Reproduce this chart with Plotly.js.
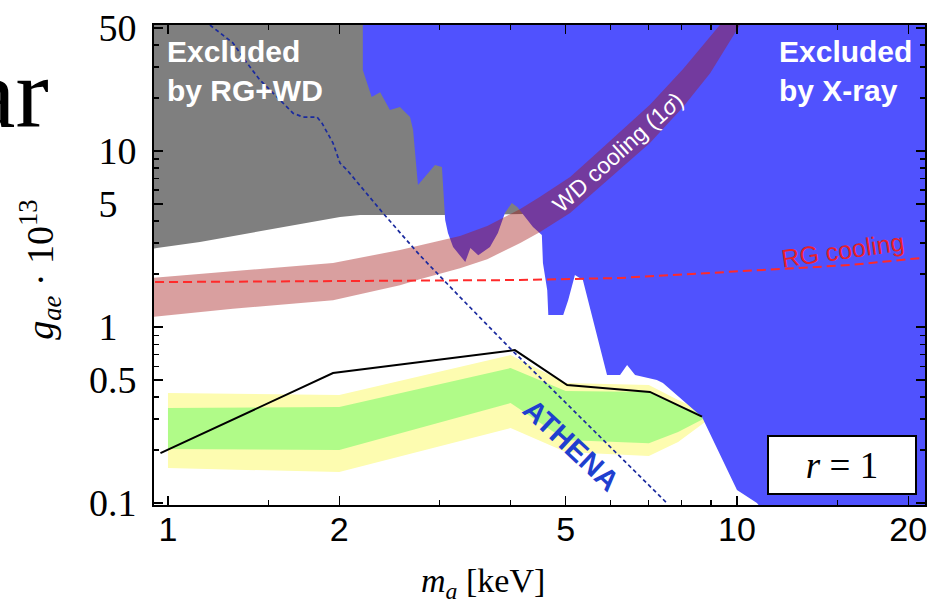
<!DOCTYPE html>
<html>
<head>
<meta charset="utf-8">
<script src="https://cdn.plot.ly/plotly-3.0.1.min.js"></script>
<style>
  html, body { margin: 0; padding: 0; background: #fff; }
  #chart { width: 928px; height: 605px; }
</style>
</head>
<body>
<div id="chart"></div>
<script>
// Axion mass m_a [keV] vs electron coupling g_ae * 10^13

// Region excluded by red giants + white dwarfs (lower boundary, then closed along the top)
const rgwdMass = [0.9, 0.956, 1.138, 1.393, 1.706, 2.006, 2.176, 3.09, 4.5, 4.5, 0.9];
const rgwdG    = [2.75, 2.81, 3.04, 3.42, 3.85, 4.22, 4.33, 4.33, 4.4, 60, 60];

// Region excluded by X-ray searches (jagged left/lower boundary, closed to the right)
const xrayMass = [2.20, 2.20, 2.28, 2.36, 2.455, 2.557, 2.663, 2.696, 2.75, 2.946, 3.03, 3.07, 3.105,
                  3.17, 3.33, 3.40, 3.51, 3.68, 3.80, 3.91, 4.02, 4.11, 4.38, 4.54, 4.56, 4.64, 4.66,
                  4.95, 5.05, 5.19, 5.36, 5.58, 5.91, 6.23, 6.41, 6.62, 7.23, 7.41, 8.68, 10.0, 10.84,
                  11.5, 25, 25];
const xrayG    = [60, 28.9, 20.3, 21.6, 17.1, 17.8, 15.6, 13.2, 6.41, 8.33, 8.11, 4.05, 3.42,
                  2.85, 2.34, 2.81, 2.56, 2.85, 3.42, 4.44, 5.07, 4.81, 3.70, 3.33, 2.31, 1.62, 1.17,
                  1.17, 1.42, 1.975, 1.85, 1.10, 0.534, 0.534, 0.608, 0.534, 0.50, 0.481, 0.308, 0.1186, 0.1,
                  0.08, 0.08, 60];

// WD cooling hint (1 sigma band)
const wdUpperMass = [0.93, 1.30, 1.95, 2.557, 2.77, 3.26, 3.64, 4.16, 4.50, 5.09, 5.74, 7.03, 8.04, 9.33, 9.68];
const wdUpperG    = [1.90, 2.08, 2.31, 2.74, 2.92, 3.29, 3.75, 4.68, 5.48, 7.12, 10.1, 18.3, 29.2, 52, 60];
const wdLowerMass = [0.93, 1.30, 1.95, 2.557, 2.77, 3.26, 3.64, 4.16, 4.50, 5.09, 5.74, 7.03, 8.04, 8.97, 10.12, 10.45];
const wdLowerG    = [1.14, 1.27, 1.42, 1.73, 1.87, 2.16, 2.43, 3.00, 3.46, 4.44, 6.24, 11.1, 17.8, 27.7, 52, 60];

// RG cooling hint
const rgMass = [0.949, 2.01, 3.26, 4.15, 6.23, 8.37, 10.97, 15.8, 21.1];
const rgG    = [1.80, 1.83, 1.85, 1.85, 1.90, 2.00, 2.11, 2.25, 2.47];

// ATHENA projected sensitivity
const athenaMass = [1.185, 1.301, 1.377, 1.451, 1.554, 1.659, 1.727, 1.828, 1.865, 1.95, 2.006, 2.064,
                    2.387, 2.77, 3.26, 4.02, 4.69, 7.53];
const athenaG    = [52, 41.1, 31.6, 25.3, 20.3, 16.4, 15.6, 15.6, 14.4, 11.1, 8.54, 7.80,
                    4.44, 2.56, 1.48, 0.740, 0.456, 0.1];

// Expected reach (r = 1) with 1 sigma / 2 sigma bands
const reachMass = [0.97, 1.95, 4.07, 5.03, 7.03, 8.68];
const reachG    = [0.192, 0.548, 0.74, 0.468, 0.428, 0.31];
const bandMass  = [1.0, 2.0, 4.0, 5.0, 7.0, 7.88, 8.79];
const yellowHi  = [0.422, 0.411, 0.693, 0.481, 0.468, 0.385, 0.329];
const greenHi   = [0.347, 0.351, 0.585, 0.433, 0.428, 0.360, 0.316];
const greenLo   = [0.203, 0.200, 0.370, 0.228, 0.219, 0.253, 0.304];
const yellowLo  = [0.158, 0.150, 0.267, 0.195, 0.185, 0.222, 0.289];

// Axis ticks
const xTickVals = [1, 2, 5, 10, 20];
const xTickText = ['1', '2', '5', '10', '20'];
const xMinorVals = [1.5, 3, 4, 6, 7, 8, 9, 15];
const yTickVals = [0.1, 0.5, 1, 5, 10, 50];
const yTickText = ['0.1', '0.5', '1\u2002', '5\u2002', '10', '50'];
const yMinorVals = [0.2, 0.3, 0.4, 0.6, 0.7, 0.8, 0.9, 2, 3, 4, 6, 7, 8, 9, 20, 30, 40];

function band(xs, hi, lo) {
  return {
    x: xs.concat(xs.slice().reverse()),
    y: hi.concat(lo.slice().reverse())
  };
}
function loop(xa, ya, xb, yb) {
  return { x: xa.concat(xb.slice().reverse()), y: ya.concat(yb.slice().reverse()) };
}

const yellow = band(bandMass, yellowHi, yellowLo);
const green = band(bandMass, greenHi, greenLo);
const wd = loop(wdUpperMass, wdUpperG, wdLowerMass, wdLowerG);

const area = (x, y, color) => ({
  x, y, type: 'scatter', mode: 'lines', fill: 'toself', fillcolor: color,
  line: { width: 0, color: color }, hoverinfo: 'skip', showlegend: false
});

const traces = [
  area(rgwdMass, rgwdG, '#7f7f7f'),
  area(yellow.x, yellow.y, '#fdfcb0'),
  area(green.x, green.y, '#b0fb88'),
  area(xrayMass, xrayG, '#5052fe'),
  area(wd.x, wd.y, 'rgba(164,27,27,0.42)'),
  { x: rgMass, y: rgG, type: 'scatter', mode: 'lines', showlegend: false,
    line: { color: '#ff2a2a', width: 2, dash: '9px,5px' } },
  { x: reachMass, y: reachG, type: 'scatter', mode: 'lines', showlegend: false,
    line: { color: '#000000', width: 2 } },
  { x: athenaMass, y: athenaG, type: 'scatter', mode: 'lines', showlegend: false,
    line: { color: '#1a2a9e', width: 1.7, dash: '4px,3px' } }
];

const whiteLabel = { family: 'Liberation Sans, Arial, sans-serif', size: 30, color: '#ffffff', weight: 'bold' };

const layout = {
  width: 928, height: 605,
  margin: { l: 154, r: 3, t: 25, b: 100 },
  paper_bgcolor: '#ffffff', plot_bgcolor: '#ffffff',
  showlegend: false,
  xaxis: {
    type: 'log', range: [Math.log10(0.945), Math.log10(21.4)],
    tickmode: 'array', tickvals: xTickVals, ticktext: xTickText,
    ticks: 'inside', ticklen: 9, tickwidth: 1.5, tickcolor: '#000',
    minor: { tickmode: 'array', tickvals: xMinorVals, ticks: 'inside', ticklen: 5, tickwidth: 1.2, tickcolor: '#000' },
    showline: true, linecolor: '#000', linewidth: 2, mirror: 'allticks',
    showgrid: false, zeroline: false,
    ticklabelstandoff: -7,
    tickfont: { family: 'Liberation Sans, Arial, sans-serif', size: 34, color: '#000' }
  },
  yaxis: {
    type: 'log', range: [-1.011, 1.716],
    tickmode: 'array', tickvals: yTickVals, ticktext: yTickText,
    ticks: 'inside', ticklen: 9, tickwidth: 1.5, tickcolor: '#000',
    minor: { tickmode: 'array', tickvals: yMinorVals, ticks: 'inside', ticklen: 5, tickwidth: 1.2, tickcolor: '#000' },
    showline: true, linecolor: '#000', linewidth: 2, mirror: 'allticks',
    showgrid: false, zeroline: false,
    ticklabelstandoff: 8,
    tickfont: { family: 'Liberation Serif, Times New Roman, serif', size: 38, color: '#000' }
  },
  annotations: [
    { xref: 'paper', yref: 'paper', x: 0.0143, y: 0.945, xanchor: 'left', yanchor: 'middle',
      text: 'Excluded', showarrow: false, font: whiteLabel },
    { xref: 'paper', yref: 'paper', x: 0.0143, y: 0.8625, xanchor: 'left', yanchor: 'middle',
      text: 'by RG+WD', showarrow: false, font: whiteLabel },
    { xref: 'paper', yref: 'paper', x: 0.808, y: 0.945, xanchor: 'left', yanchor: 'middle',
      text: 'Excluded', showarrow: false, font: whiteLabel },
    { xref: 'paper', yref: 'paper', x: 0.808, y: 0.8625, xanchor: 'left', yanchor: 'middle',
      text: 'by X-ray', showarrow: false, font: whiteLabel },
    { xref: 'paper', yref: 'paper', x: 0.602, y: 0.735, xanchor: 'center', yanchor: 'middle', textangle: -42,
      text: 'WD cooling (1<i>σ</i>)', showarrow: false,
      font: { family: 'Liberation Sans, Arial, sans-serif', size: 23, color: '#ffffff' } },
    { xref: 'paper', yref: 'paper', x: 0.894, y: 0.531, xanchor: 'center', yanchor: 'middle', textangle: -8,
      text: 'RG cooling', showarrow: false,
      font: { family: 'Liberation Sans, Arial, sans-serif', size: 25, color: '#e8202a' } },
    { xref: 'paper', yref: 'paper', x: 0.541, y: 0.125, xanchor: 'center', yanchor: 'middle', textangle: 43,
      text: 'ATHENA', showarrow: false,
      font: { family: 'Liberation Sans, Arial, sans-serif', size: 29, color: '#1f3fcf', weight: 'bold' } },
    { xref: 'paper', yref: 'paper', x: 0.892, y: 0.083, xanchor: 'center', yanchor: 'middle',
      text: '<i>r</i> = 1', showarrow: false, width: 146, height: 56,
      bgcolor: '#ffffff', bordercolor: '#000000', borderwidth: 2, borderpad: 0,
      font: { family: 'Liberation Serif, Times New Roman, serif', size: 37, color: '#000' } },
    { xref: 'paper', yref: 'paper', x: 0.427, y: -0.1625, xanchor: 'center', yanchor: 'middle',
      text: '<i>m</i><sub><i>a</i></sub> [keV]', showarrow: false,
      font: { family: 'Liberation Serif, Times New Roman, serif', size: 34, color: '#000' } },
    { xref: 'paper', yref: 'paper', x: -0.148, y: 0.49, xanchor: 'center', yanchor: 'middle', textangle: -90,
      text: '<i>g</i><sub><i>ae</i></sub> · 10<sup>13</sup>', showarrow: false,
      font: { family: 'Liberation Serif, Times New Roman, serif', size: 38, color: '#000' } },
    { xref: 'paper', yref: 'paper', x: -0.133, y: 0.858, xanchor: 'right', yanchor: 'middle',
      text: 'ar', showarrow: false,
      font: { family: 'Liberation Serif, Times New Roman, serif', size: 100, color: '#000' } }
  ]
};

Plotly.newPlot('chart', traces, layout, { staticPlot: true, displayModeBar: false });
</script>
</body>
</html>
